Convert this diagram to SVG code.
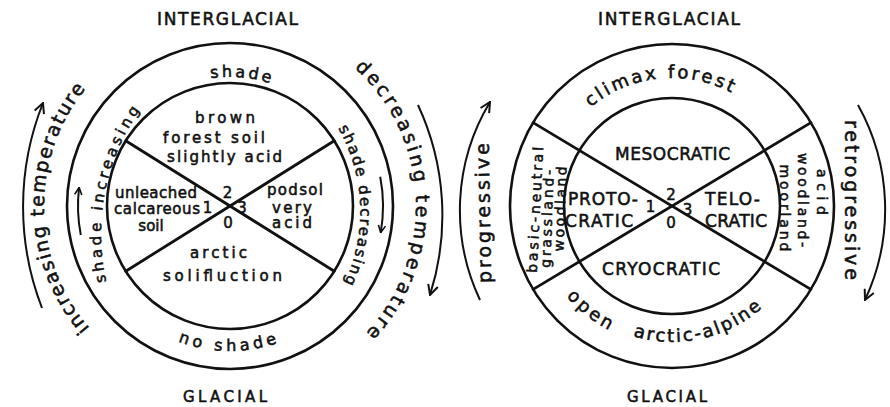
<svg xmlns="http://www.w3.org/2000/svg" width="890" height="407" viewBox="0 0 890 407">
<style>
text { font-family: "DejaVu Sans", "Liberation Sans", sans-serif; fill: #111; stroke: #111; stroke-width: 0.55; }
.ring { fill: none; stroke: #111; stroke-width: 2.6; }
.div { stroke: #111; stroke-width: 2.8; stroke-linecap: round; }
.arr { fill: none; stroke: #111; stroke-width: 2; }
.hd { font-size: 17px; text-anchor: middle; }
.gl { font-size: 15px; text-anchor: middle; }
.big { font-size: 19px; }
.band { font-size: 16px; }
.sband { font-size: 15px; }
.veg { font-size: 18px; }
.seg { font-size: 14px; text-anchor: middle; }
.soil { font-size: 15px; text-anchor: middle; }
.cap { font-size: 17px; text-anchor: middle; }
.num { font-size: 15px; text-anchor: middle; }
</style>
<defs>
<marker id="ah" viewBox="0 0 12 12" refX="11" refY="6" markerWidth="12" markerHeight="12" markerUnits="userSpaceOnUse" orient="auto"><path d="M1,1 L11,6 L1,11" fill="none" stroke="#111" stroke-width="2"/></marker>
<marker id="ahs" viewBox="0 0 10 10" refX="9" refY="5" markerWidth="9" markerHeight="9" markerUnits="userSpaceOnUse" orient="auto"><path d="M1,1 L9,5 L1,9" fill="none" stroke="#111" stroke-width="1.8"/></marker>
<path id="p_inc" d="M 89.6 328.0 A 186 186 0 0 1 85.5 88.9"/>
<path id="p_dec" d="M 354.5 67.8 A 186 186 0 0 1 366.0 332.9"/>
<path id="p_shade" d="M 210.9 78.4 A 129 129 0 0 1 269.9 83.3"/>
<path id="p_noshade" d="M 178.0 341.4 A 145 145 0 0 0 277.2 343.1"/>
<path id="p_shinc" d="M 106.4 282 A 216 216 0 0 1 140 110"/>
<path id="p_shdec" d="M 338.2 128 A 167.6 167.6 0 0 1 344.3 283"/>
<path id="p_climax" d="M 590.6 107.2 A 128 128 0 0 1 731.1 92.5"/>
<path id="p_open" d="M 566.3 296.3 A 139 139 0 0 0 608.9 329.9"/>
<path id="p_arctic" d="M 633.1 336.3 A 136 136 0 0 0 761.9 308.0"/>
</defs>
<rect width="890" height="407" fill="#fff"/>

<g id="left-diagram">
  <g id="left-rings">
    <circle class="ring" cx="230" cy="206" r="163"/>
    <circle class="ring" cx="230" cy="206" r="123"/>
  </g>
  <g id="left-dividers">
    <line class="div" x1="125.7" y1="140.8" x2="334.3" y2="271.2"/>
    <line class="div" x1="125.7" y1="271.2" x2="334.3" y2="140.8"/>
  </g>
  <g id="left-labels">
    <text class="hd" x="227.5" y="25" textLength="141" lengthAdjust="spacing">INTERGLACIAL</text>
    <text class="gl" x="225" y="402" textLength="84" lengthAdjust="spacing">GLACIAL</text>
  </g>
  <g id="left-band">
    <text class="band"><textPath href="#p_shade" startOffset="50%" text-anchor="middle" textLength="59.7" lengthAdjust="spacing">shade</textPath></text>
    <text class="band"><textPath href="#p_noshade" startOffset="50%" text-anchor="middle" textLength="101.2" lengthAdjust="spacing">no shade</textPath></text>
    <text class="sband"><textPath href="#p_shinc" startOffset="50%" text-anchor="middle" textLength="180" lengthAdjust="spacing">shade increasing</textPath></text>
    <text class="sband"><textPath href="#p_shdec" startOffset="50%" text-anchor="middle" textLength="161" lengthAdjust="spacing">shade decreasing</textPath></text>
  </g>
  <g id="left-soils">
    <text class="soil" x="225" y="123" textLength="60" lengthAdjust="spacing">brown</text>
    <text class="soil" x="214" y="143" textLength="102" lengthAdjust="spacing">forest soil</text>
    <text class="soil" x="224.5" y="162" textLength="115" lengthAdjust="spacing">slightly acid</text>
    <text class="soil" x="156" y="198" textLength="82" lengthAdjust="spacing">unleached</text>
    <text class="soil" x="157" y="214" textLength="86" lengthAdjust="spacing">calcareous</text>
    <text class="soil" x="151" y="231">soil</text>
    <text class="soil" x="295" y="195" textLength="56" lengthAdjust="spacing">podsol</text>
    <text class="soil" x="292" y="213" textLength="40" lengthAdjust="spacing">very</text>
    <text class="soil" x="292" y="228" textLength="40" lengthAdjust="spacing">acid</text>
    <text class="soil" x="218.5" y="258" textLength="57" lengthAdjust="spacing">arctic</text>
    <text class="soil" x="222.5" y="281" textLength="119" lengthAdjust="spacing">solifluction</text>
    <text class="num" x="227.5" y="198">2</text>
    <text class="num" x="207.5" y="213">1</text>
    <text class="num" x="242" y="213">3</text>
    <text class="num" x="228" y="228">0</text>
  </g>
  <g id="left-temperature">
    <text class="big"><textPath href="#p_inc" startOffset="50%" text-anchor="middle" textLength="259.7" lengthAdjust="spacing">increasing temperature</textPath></text>
    <text class="big"><textPath href="#p_dec" startOffset="50%" text-anchor="middle" textLength="295.4" lengthAdjust="spacing">decreasing temperature</textPath></text>
  </g>
</g>

<g id="right-diagram">
  <g id="right-rings">
    <circle class="ring" cx="672" cy="206" r="162"/>
    <circle class="ring" cx="672" cy="206" r="108"/>
  </g>
  <g id="right-dividers">
    <line class="div" x1="533.1" y1="122.6" x2="810.9" y2="289.4"/>
    <line class="div" x1="533.1" y1="289.4" x2="810.9" y2="122.6"/>
  </g>
  <g id="right-labels">
    <text class="hd" x="669" y="25" textLength="142" lengthAdjust="spacing">INTERGLACIAL</text>
    <text class="gl" x="667" y="402" textLength="80" lengthAdjust="spacing">GLACIAL</text>
  </g>
  <g id="right-vegetation">
    <text class="veg"><textPath href="#p_climax" startOffset="50%" text-anchor="middle" textLength="149.7" lengthAdjust="spacing">climax forest</textPath></text>
    <text class="veg"><textPath href="#p_open" startOffset="50%" text-anchor="middle" textLength="54.6" lengthAdjust="spacing">open</textPath></text>
    <text class="veg"><textPath href="#p_arctic" startOffset="50%" text-anchor="middle" textLength="137.7" lengthAdjust="spacing">arctic-alpine</textPath></text>
    <text class="seg" x="540" y="210" transform="rotate(-87 540 210)" textLength="126" lengthAdjust="spacing">basic-neutral</text>
    <text class="seg" x="552" y="219" transform="rotate(-88 552 219)" textLength="98" lengthAdjust="spacing">grassland-</text>
    <text class="seg" x="565" y="209" transform="rotate(-88 565 209)" textLength="85" lengthAdjust="spacing">woodland</text>
    <text class="seg" x="817" y="192" transform="rotate(90 817 192)" textLength="46" lengthAdjust="spacing">acid</text>
    <text class="seg" x="798" y="200" transform="rotate(90 798 200)" textLength="94" lengthAdjust="spacing">woodland-</text>
    <text class="seg" x="780" y="208" transform="rotate(90 780 208)" textLength="87" lengthAdjust="spacing">moorland</text>
  </g>
  <g id="right-phases">
    <text class="cap" x="672.5" y="160" textLength="115" lengthAdjust="spacing">MESOCRATIC</text>
    <text class="cap" x="603" y="205" textLength="70" lengthAdjust="spacing">PROTO-</text>
    <text class="cap" x="599" y="227" textLength="68" lengthAdjust="spacing">CRATIC</text>
    <text class="cap" x="732.5" y="205" textLength="55" lengthAdjust="spacing">TELO-</text>
    <text class="cap" x="736" y="227" textLength="62" lengthAdjust="spacing">CRATIC</text>
    <text class="cap" x="661" y="275" textLength="118" lengthAdjust="spacing">CRYOCRATIC</text>
    <text class="num" x="671" y="200">2</text>
    <text class="num" x="650.5" y="212">1</text>
    <text class="num" x="687.5" y="215">3</text>
    <text class="num" x="671" y="228">0</text>
  </g>
  <g id="right-succession">
    <text class="big" x="490" y="213" text-anchor="middle" transform="rotate(-91 490 213)" textLength="140" lengthAdjust="spacing">progressive</text>
    <text class="big" x="845" y="200" text-anchor="middle" transform="rotate(90 845 200)" textLength="160" lengthAdjust="spacing">retrogressive</text>
  </g>
</g>

<g id="connectors">
  <path class="arr" d="M 42 308 A 280 280 0 0 1 43 103" marker-end="url(#ah)"/>
  <path class="arr" d="M 418 105 A 262 262 0 0 1 430 295" marker-end="url(#ah)"/>
  <path class="arr" d="M 80.8 235 A 152 152 0 0 1 79.1 187.5" marker-end="url(#ahs)"/>
  <path class="arr" d="M 380.2 176.8 A 153 153 0 0 1 380.7 232.6" marker-end="url(#ahs)"/>
  <path class="arr" d="M 480 300 A 210 210 0 0 1 490 102" marker-end="url(#ah)"/>
  <path class="arr" d="M 858 105 A 214 214 0 0 1 865 300" marker-end="url(#ah)"/>
</g>
</svg>
